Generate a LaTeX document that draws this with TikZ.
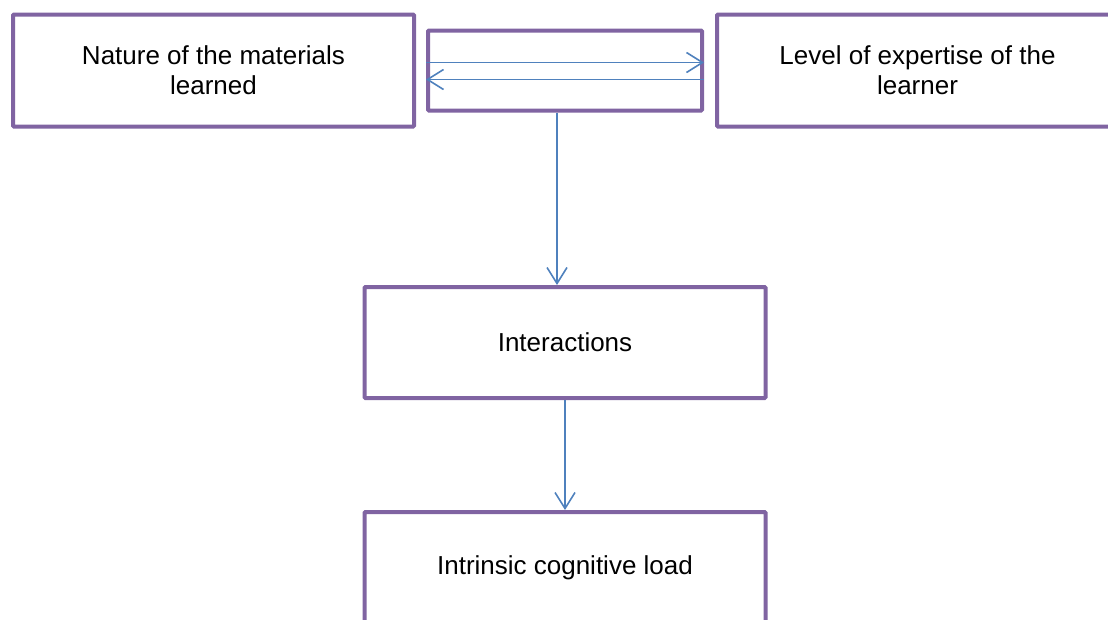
\documentclass[tikz,border=0pt]{standalone}
\usepackage{fontspec}
\setmainfont{Liberation Sans}
\usetikzlibrary{positioning,arrows.meta}
\definecolor{boxpurple}{HTML}{8064A2}
\definecolor{linkblue}{HTML}{4F81BD}

\begin{document}
\begin{tikzpicture}[x=1pt, y=1pt, node distance=2cm, on grid,
  factor/.style={draw=boxpurple, line width=4pt, rounded corners=1pt, fill=white,
    minimum width=401pt, minimum height=112pt, align=center, inner sep=0pt,
    font=\fontsize{26}{30}\selectfont},
  flow/.style={draw=linkblue, line width=1.6pt, -{Straight Barb[length=16pt,width=20pt]}}]
\useasboundingbox (0,0) rectangle (1108,-619);
\clip (0,0) rectangle (1108,-619);
\node [factor] (nature) at (213.5,-70.5) {Nature of the materials\\learned};
\node [factor, minimum width=274pt, minimum height=80pt] (link) [right=351.5pt of nature] {};
\node [factor] (level) [right=352.5pt of link] {Level of expertise of the\\learner};
\node [factor, minimum height=111pt] (inter) [below=272pt of link] {Interactions};
\node [factor, minimum height=111pt] (load) [below=225pt of inter] {Intrinsic cognitive load};
\draw [flow] ([yshift=8pt]link.west) -- ([yshift=8pt]link.east);
\draw [flow] ([yshift=-9pt]link.east) -- ([yshift=-9pt]link.west);
\draw [flow] ([xshift=-8pt]link.south) -- ([xshift=-8pt]link.south |- inter.north);
\draw [flow] (inter) -- (load);
\end{tikzpicture}
\end{document}
